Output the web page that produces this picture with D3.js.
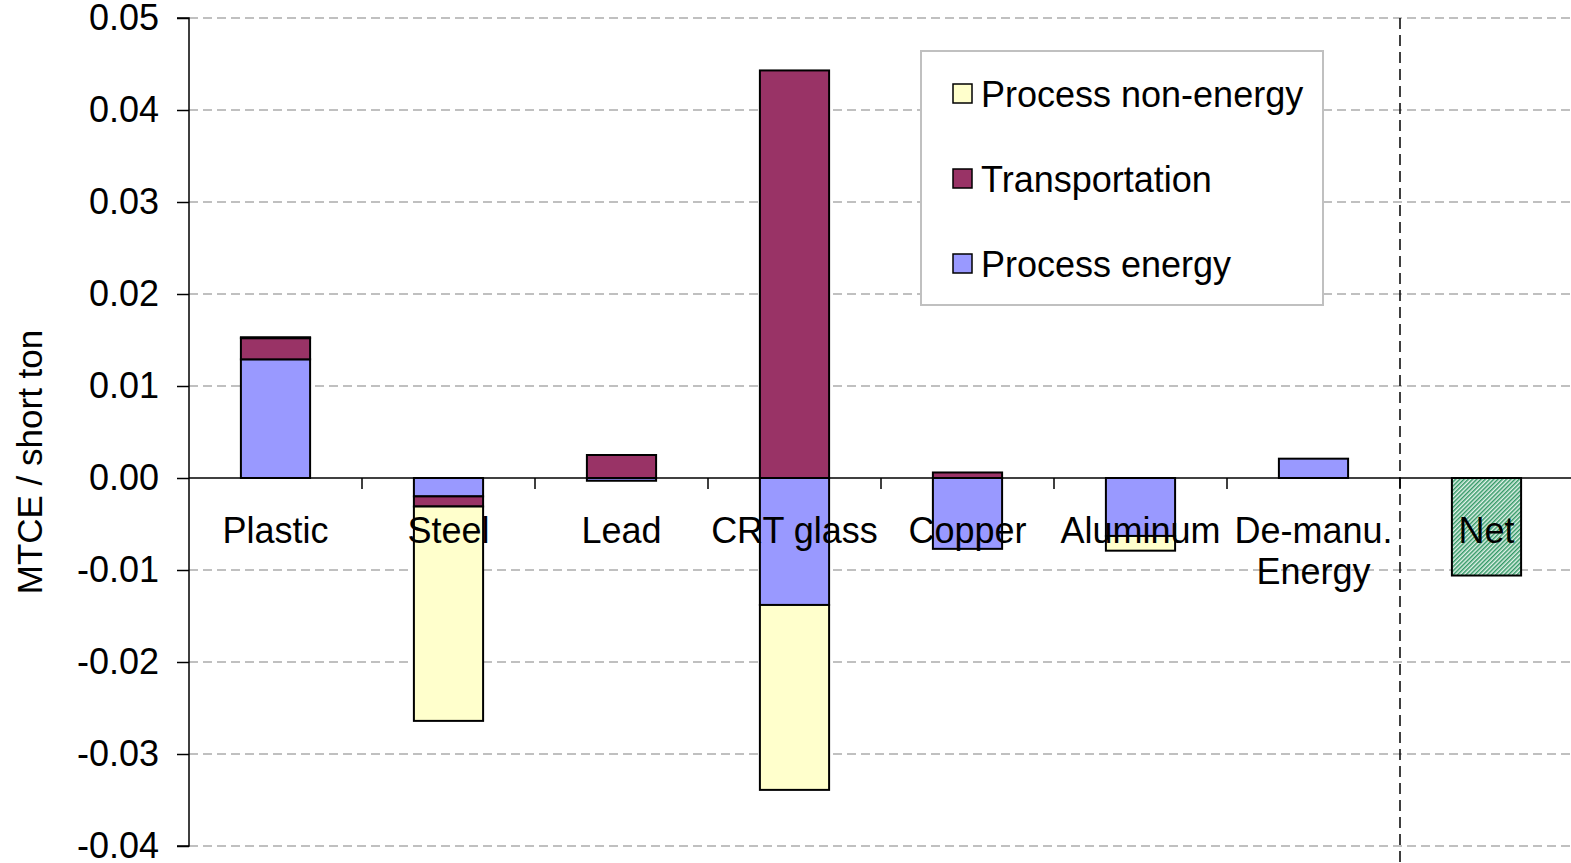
<!DOCTYPE html>
<html>
<head>
<meta charset="utf-8">
<script src="https://cdn.jsdelivr.net/npm/d3@7"></script>
<style>
body { margin: 0; background: #fff; }
text { font-family: "Liberation Sans", Arial, sans-serif; }
</style>
</head>
<body>
<script>
// categories and values
var categories = ["Plastic", "Steel", "Lead", "CRT glass", "Copper", "Aluminum", "De-manu. Energy", "Net"];
var processEnergy    = [0.0129, -0.0020, -0.0003, -0.0138, -0.0077, -0.0063, 0.0021, 0];
var transportation   = [0.0023, -0.0011, 0.0025, 0.0443, 0.0006, 0, 0, 0];
var processNonEnergy = [0.0001, -0.0233, 0, -0.0201, 0, -0.0016, 0, 0];
var netValues        = [0, 0, 0, 0, 0, 0, 0, -0.0106];
var yTicks = [0.05, 0.04, 0.03, 0.02, 0.01, 0, -0.01, -0.02, -0.03, -0.04];
var legendLabels = ["Process non-energy", "Transportation", "Process energy"];

var seriesKeys = ["pe", "tr", "ne", "net"];
var colors = {pe: "#9999ff", tr: "#993366", ne: "#ffffcc", net: "url(#hatch)"};
var legendKeys = ["ne", "tr", "pe"];

var W = 1571, H = 863;
var margin = {top: 18, left: 189},
    plotW = 1384, plotH = 828;
var fontSize = 36;

var rows = categories.map(function(c, i) {
  return {cat: c, pe: processEnergy[i], tr: transportation[i], ne: processNonEnergy[i], net: netValues[i]};
});

var svg = d3.select("body").append("svg")
  .attr("width", W).attr("height", H);

var defs = svg.append("defs");
var pat = defs.append("pattern")
  .attr("id", "hatch")
  .attr("patternUnits", "userSpaceOnUse")
  .attr("width", 3).attr("height", 3)
  .attr("patternTransform", "rotate(45)");
pat.append("rect").attr("width", 3).attr("height", 3).attr("fill", "#e3f2ea");
pat.append("rect").attr("width", 1.5).attr("height", 3).attr("fill", "#339966");

var g = svg.append("g").attr("transform", "translate(" + margin.left + "," + margin.top + ")");

var x = d3.scaleBand().domain(categories).range([0, plotW]).paddingInner(0.6).paddingOuter(0.3);
var y = d3.scaleLinear().domain([-0.04, 0.05]).range([plotH, 0]);

// gridlines
g.append("g").selectAll("line")
  .data(yTicks.filter(function(d) { return d !== 0; }))
  .enter().append("line")
  .attr("x1", 0).attr("x2", plotW)
  .attr("y1", function(d) { return y(d); }).attr("y2", function(d) { return y(d); })
  .attr("stroke", "#c0c0c0").attr("stroke-width", 2).attr("stroke-dasharray", "9,5");

// dashed separator before Net
var step = x.step();
g.append("line")
  .attr("x1", step * 7).attr("x2", step * 7)
  .attr("y1", 0).attr("y2", H)
  .attr("stroke", "#000").attr("stroke-width", 1.5).attr("stroke-dasharray", "11,6");

// stacked bars
var stack = d3.stack().keys(seriesKeys).offset(d3.stackOffsetDiverging);
var series = stack(rows);

g.selectAll(".series")
  .data(series)
  .enter().append("g")
  .attr("class", "series")
  .attr("fill", function(d) { return colors[d.key]; })
  .selectAll("rect")
  .data(function(d) { return d.filter(function(p) { return p[1] - p[0] !== 0; }); })
  .enter().append("rect")
  .attr("x", function(d) { return x(d.data.cat); })
  .attr("width", x.bandwidth())
  .attr("y", function(d) { return y(d[1]); })
  .attr("height", function(d) { return y(d[0]) - y(d[1]); })
  .attr("stroke", "#000").attr("stroke-width", 2);

// zero line
g.append("line")
  .attr("x1", 0).attr("x2", plotW)
  .attr("y1", y(0)).attr("y2", y(0))
  .attr("stroke", "#000").attr("stroke-width", 1.5);

// x ticks between categories
g.append("g").selectAll("line")
  .data(d3.range(1, categories.length))
  .enter().append("line")
  .attr("x1", function(k) { return k * step; }).attr("x2", function(k) { return k * step; })
  .attr("y1", y(0)).attr("y2", y(0) + 11)
  .attr("stroke", "#000").attr("stroke-width", 1.5);

// category labels
var labels = g.append("g").selectAll("text")
  .data(categories)
  .enter().append("text")
  .attr("text-anchor", "middle")
  .attr("font-size", fontSize)
  .attr("x", function(d) { return x(d) + x.bandwidth() / 2; })
  .attr("y", y(0) + 65);
labels.each(function(d) {
  var t = d3.select(this);
  if (d === "De-manu. Energy") {
    t.append("tspan").attr("x", t.attr("x")).text("De-manu.");
    t.append("tspan").attr("x", t.attr("x")).attr("dy", 41).text("Energy");
  } else {
    t.text(d);
  }
});

// y axis
var fmt = d3.format(".2f");
var yAxis = d3.axisLeft(y).tickValues(yTicks).tickSize(12).tickPadding(18)
  .tickFormat(function(d) { return fmt(d).replace("\u2212", "-"); });
var ya = g.append("g").call(yAxis);
ya.select(".domain").attr("stroke", "#000").attr("stroke-width", 1.5).attr("d", "M-12,0H0V" + plotH + "H-12");
ya.selectAll(".tick line").attr("stroke", "#000").attr("stroke-width", 1.5);
ya.selectAll(".tick text").attr("font-size", fontSize).attr("fill", "#000")
  .attr("font-family", "'Liberation Sans', Arial, sans-serif");

// y axis title
svg.append("text")
  .attr("transform", "translate(42,462) rotate(-90)")
  .attr("text-anchor", "middle")
  .attr("font-size", 35)
  .text("MTCE / short ton");

// legend
var lg = svg.append("g").attr("transform", "translate(921,51)");
lg.append("rect").attr("width", 402).attr("height", 254)
  .attr("fill", "#fff").attr("stroke", "#c0c0c0").attr("stroke-width", 2);
var items = lg.selectAll(".item")
  .data(legendKeys)
  .enter().append("g")
  .attr("transform", function(d, i) { return "translate(0," + (44 + i * 85) + ")"; });
items.append("rect")
  .attr("x", 32).attr("y", -11).attr("width", 19).attr("height", 19)
  .attr("fill", function(d) { return colors[d]; })
  .attr("stroke", "#000").attr("stroke-width", 1.5);
items.append("text")
  .attr("x", 60).attr("y", 12)
  .attr("font-size", fontSize)
  .text(function(d, i) { return legendLabels[i]; });
</script>
</body>
</html>
